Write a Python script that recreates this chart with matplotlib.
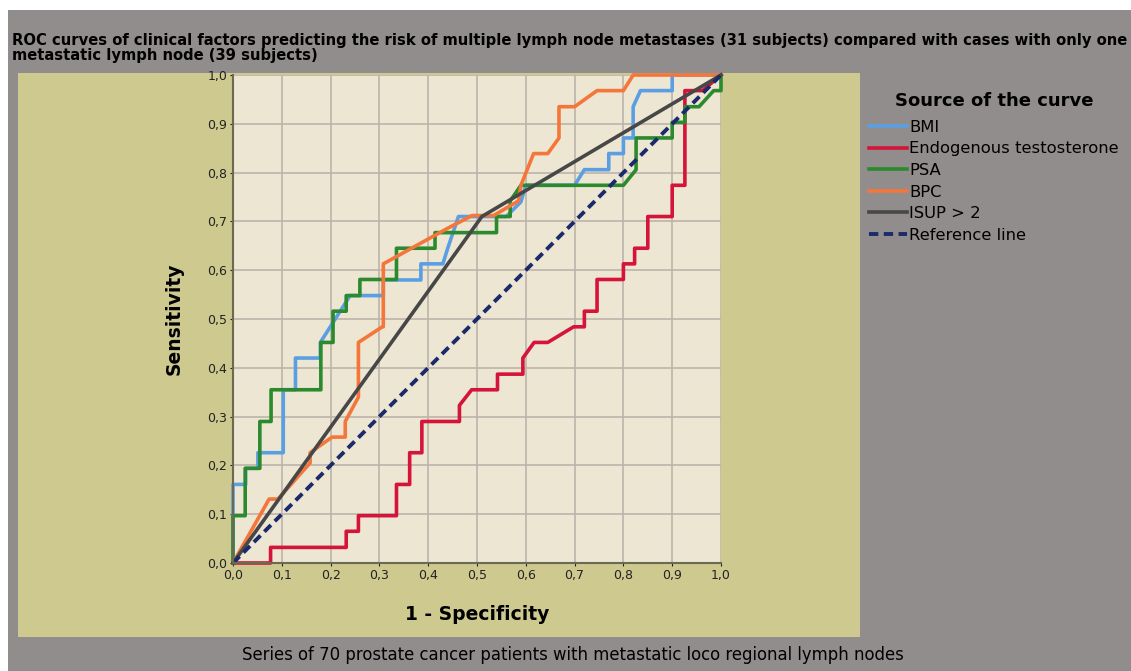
import matplotlib
matplotlib.use("Agg")
import matplotlib.pyplot as plt
import matplotlib.patches as patches
from matplotlib.ticker import FuncFormatter

# --- datos ---
bmi_fpr = [0, 0, 0.026, 0.026, 0.051, 0.051, 0.103, 0.103, 0.128, 0.128, 0.179, 0.179,
           0.24, 0.308, 0.308, 0.385, 0.385, 0.43, 0.44, 0.462, 0.5, 0.56, 0.59, 0.6,
           0.70, 0.72, 0.77, 0.77, 0.80, 0.80, 0.82, 0.82, 0.835, 0.90, 0.90, 1.0]
bmi_tpr = [0, 0.161, 0.161, 0.194, 0.194, 0.226, 0.226, 0.355, 0.355, 0.42, 0.42, 0.452,
           0.548, 0.548, 0.58, 0.58, 0.613, 0.613, 0.645, 0.71, 0.71, 0.71, 0.74, 0.774,
           0.774, 0.806, 0.806, 0.839, 0.839, 0.871, 0.871, 0.935, 0.968, 0.968, 1.0, 1.0]

testo_fpr = [0, 0.077, 0.077, 0.232, 0.232, 0.257, 0.257, 0.335, 0.335, 0.362, 0.362,
             0.387, 0.387, 0.464, 0.464, 0.489, 0.542, 0.542, 0.594, 0.594, 0.617, 0.645,
             0.698, 0.72, 0.72, 0.746, 0.746, 0.80, 0.80, 0.823, 0.823, 0.85, 0.85, 0.90,
             0.90, 0.926, 0.926, 0.962, 1.0]
testo_tpr = [0, 0, 0.032, 0.032, 0.065, 0.065, 0.097, 0.097, 0.161, 0.161, 0.226,
             0.226, 0.29, 0.29, 0.323, 0.355, 0.355, 0.387, 0.387, 0.42, 0.452, 0.452,
             0.484, 0.484, 0.516, 0.516, 0.581, 0.581, 0.613, 0.613, 0.645, 0.645, 0.71, 0.71,
             0.774, 0.774, 0.968, 0.968, 1.0]

psa_fpr = [0, 0, 0.025, 0.025, 0.055, 0.055, 0.078, 0.078, 0.18, 0.18, 0.205, 0.205,
           0.232, 0.232, 0.26, 0.26, 0.335, 0.335, 0.414, 0.414, 0.54, 0.54, 0.568, 0.568,
           0.59, 0.80, 0.826, 0.826, 0.90, 0.90, 0.926, 0.926, 0.955, 0.985, 1.0, 1.0]
psa_tpr = [0, 0.097, 0.097, 0.194, 0.194, 0.29, 0.29, 0.355, 0.355, 0.452, 0.452, 0.516,
           0.516, 0.548, 0.548, 0.581, 0.581, 0.645, 0.645, 0.677, 0.677, 0.71, 0.71, 0.742,
           0.774, 0.774, 0.806, 0.871, 0.871, 0.903, 0.903, 0.935, 0.935, 0.968, 0.968, 1.0]

bpc_fpr = [0, 0.074, 0.092, 0.158, 0.158, 0.203, 0.23, 0.23, 0.257, 0.257, 0.306, 0.308,
           0.308, 0.44, 0.49, 0.534, 0.585, 0.59, 0.616, 0.645, 0.668, 0.668, 0.70, 0.746,
           0.80, 0.82, 1.0]
bpc_tpr = [0, 0.131, 0.131, 0.205, 0.226, 0.258, 0.258, 0.29, 0.34, 0.452, 0.484, 0.484,
           0.613, 0.686, 0.712, 0.712, 0.742, 0.774, 0.839, 0.839, 0.871, 0.935, 0.935, 0.968,
           0.968, 1.0, 1.0]

isup_fpr = [0, 0.51, 1.0]
isup_tpr = [0, 0.71, 1.0]

ref_fpr = [0, 1]
ref_tpr = [0, 1]

series = [
    ("BMI", bmi_fpr, bmi_tpr, "#5b9fe3", "-"),
    ("Endogenous testosterone", testo_fpr, testo_tpr, "#d5143a", "-"),
    ("PSA", psa_fpr, psa_tpr, "#2b8a2e", "-"),
    ("BPC", bpc_fpr, bpc_tpr, "#f5763a", "-"),
    ("ISUP > 2", isup_fpr, isup_tpr, "#474747", "-"),
    ("Reference line", ref_fpr, ref_tpr, "#1b2a6b", "--"),
]

ticks = [i / 10 for i in range(11)]

title = ("ROC curves of clinical factors predicting the risk of multiple lymph node metastases "
         "(31 subjects) compared with cases with only one\nmetastatic lymph node (39 subjects)")
footer = "Series of 70 prostate cancer patients with metastatic loco regional lymph nodes"

W, H = 1131, 671
fig = plt.figure(figsize=(W / 100, H / 100), dpi=100, facecolor="white")

# fondo gris y panel caqui
fig.add_artist(patches.Rectangle((8 / W, 0), 1, 1 - 10 / H, transform=fig.transFigure,
                                 facecolor="#918d8c", edgecolor="none", zorder=-3))
fig.add_artist(patches.Rectangle((18 / W, 1 - 637 / H), 842 / W, 564 / H,
                                 transform=fig.transFigure, facecolor="#cec98f",
                                 edgecolor="none", zorder=-2))

ax = fig.add_axes([233 / W, 1 - 563 / H, 488 / W, 488 / H])
ax.set_facecolor("#ede6d3")
ax.set_xlim(0, 1)
ax.set_ylim(0, 1)
ax.set_xticks(ticks)
ax.set_yticks(ticks)
fmt = FuncFormatter(lambda v, p: f"{v:.1f}".replace(".", ","))
ax.xaxis.set_major_formatter(fmt)
ax.yaxis.set_major_formatter(fmt)
ax.grid(True, color="#bcb3ab", linewidth=1.2)
ax.set_axisbelow(True)
ax.tick_params(length=2, labelsize=9, colors="#222222", pad=2)
for s in ["top", "right"]:
    ax.spines[s].set_visible(False)
for s in ["left", "bottom"]:
    ax.spines[s].set_color("#6a6a52")
    ax.spines[s].set_linewidth(1.5)

for name, xs, ys, col, ls in series:
    if ls == "--":
        ax.plot(xs, ys, color=col, linewidth=2.8, dashes=(2.4, 1.4), label=name, clip_on=False)
    else:
        ax.plot(xs, ys, color=col, linewidth=2.6, label=name, clip_on=False)

ax.set_xlabel("1 - Specificity", fontsize=13.5, fontweight="bold", labelpad=17)
ax.set_ylabel("Sensitivity", fontsize=13.5, fontweight="bold", labelpad=17)

handles, labels = ax.get_legend_handles_labels()
leg = fig.legend(handles, labels, loc="upper left", bbox_to_anchor=(861 / W, 1 - 84 / H),
                 frameon=False, fontsize=11.8, title="Source of the curve",
                 title_fontproperties={"size": 13, "weight": "bold"},
                 handlelength=2.3, handletextpad=0.15, labelspacing=0.4, borderpad=0)
leg._legend_box.sep = 7

fig.text(12 / W, 1 - 33 / H, title, fontsize=10.6, fontweight="bold", ha="left", va="top",
         family=["Liberation Sans Narrow", "DejaVu Sans"], linespacing=1.0)
fig.text(573 / W, 1 - 655 / H, footer, fontsize=11.9, ha="center", va="center",
         family=["Liberation Sans Narrow", "DejaVu Sans"])

fig.savefig("out.png", dpi=100, facecolor=fig.get_facecolor())
